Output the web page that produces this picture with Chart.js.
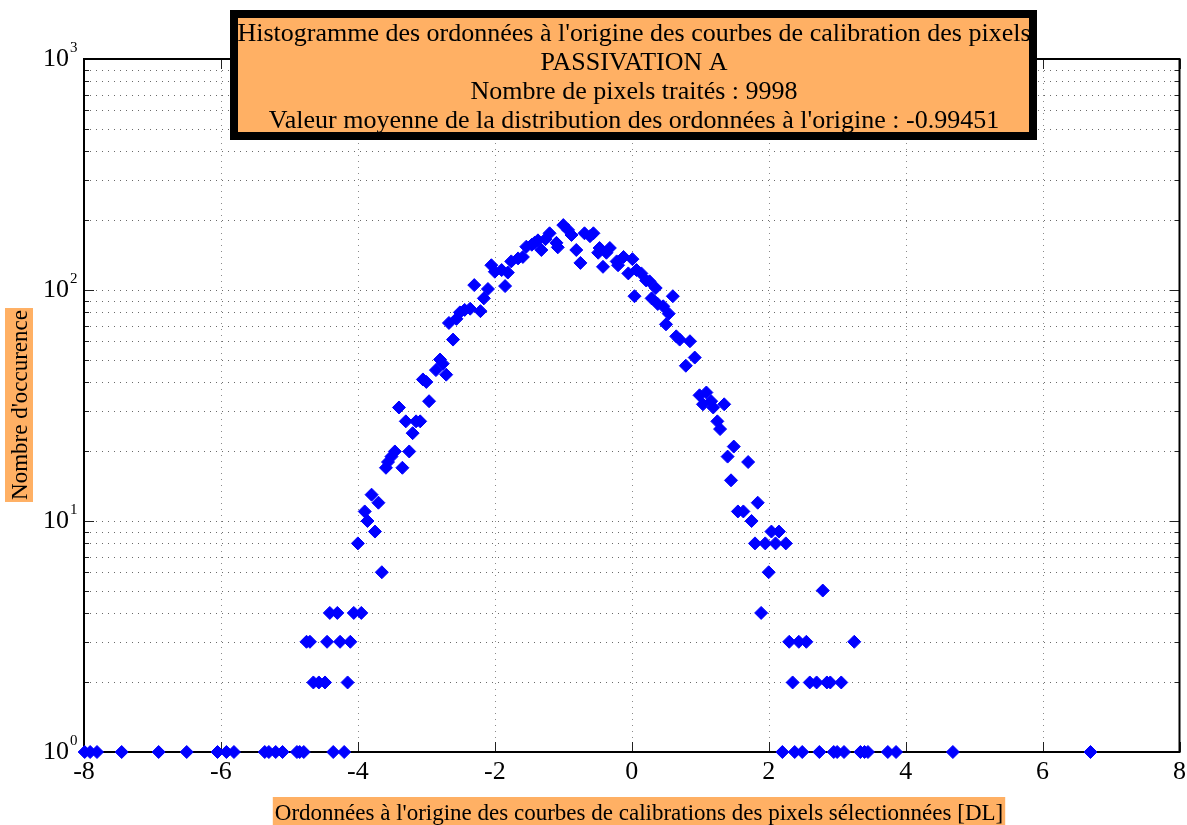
<!DOCTYPE html>
<html><head><meta charset="utf-8">
<script src="https://cdn.jsdelivr.net/npm/chart.js@4.4.1/dist/chart.umd.min.js"></script>
<style>html,body{margin:0;padding:0;background:#fff;}#wrap{width:1187px;height:825px;position:relative;}</style>
</head><body><div id="wrap"><canvas id="c" width="1187" height="825"></canvas></div>
<script>
const binCenters = [-7.99,-7.91,-7.81,-7.45,-6.91,-6.50,-6.05,-5.92,-5.81,-5.36,-5.30,-5.20,-5.10,-4.89,-4.85,-4.79,-4.75,-4.70,-4.65,-4.57,-4.48,-4.45,-4.41,-4.36,-4.30,-4.26,-4.20,-4.15,-4.11,-4.06,-4.00,-3.95,-3.90,-3.86,-3.80,-3.75,-3.70,-3.65,-3.59,-3.56,-3.51,-3.46,-3.40,-3.35,-3.30,-3.25,-3.20,-3.15,-3.09,-3.05,-3.00,-2.96,-2.86,-2.80,-2.76,-2.71,-2.67,-2.61,-2.56,-2.51,-2.44,-2.36,-2.30,-2.21,-2.16,-2.10,-2.05,-2.00,-1.90,-1.85,-1.81,-1.76,-1.66,-1.59,-1.54,-1.46,-1.42,-1.37,-1.32,-1.26,-1.20,-1.10,-1.08,-1.00,-0.93,-0.88,-0.81,-0.75,-0.69,-0.61,-0.56,-0.49,-0.47,-0.42,-0.37,-0.32,-0.22,-0.20,-0.12,-0.05,0.01,0.04,0.07,0.14,0.21,0.26,0.29,0.35,0.38,0.46,0.50,0.54,0.60,0.65,0.70,0.79,0.85,0.92,0.99,1.04,1.09,1.16,1.19,1.25,1.29,1.35,1.40,1.45,1.49,1.55,1.63,1.70,1.75,1.80,1.84,1.89,1.95,2.00,2.04,2.10,2.15,2.20,2.25,2.30,2.35,2.38,2.44,2.49,2.55,2.60,2.70,2.74,2.79,2.85,2.90,2.95,3.00,3.06,3.10,3.25,3.34,3.40,3.45,3.74,3.86,4.69,6.70];
const occurrences = [1,1,1,1,1,1,1,1,1,1,1,1,1,1,1,1,3,3,2,2,2,3,4,1,4,3,1,2,3,4,8,4,11,10,13,9,12,6,17,18,19,20,31,17,27,20,24,27,27,41,40,33,45,50,48,43,72,61,75,80,82,83,105,81,92,101,128,120,122,104,119,133,137,139,154,157,160,164,149,166,176,160,153,191,182,173,149,131,176,171,176,145,152,126,145,152,133,128,139,118,136,94,122,118,110,109,92,102,87,85,71,79,94,63,61,47,60,51,35,32,36,33,31,27,25,32,19,15,21,11,11,18,10,8,12,4,8,6,9,8,9,1,8,3,2,1,3,1,3,2,2,1,5,2,2,1,1,2,1,3,1,1,1,1,1,1,1];
const xTickValues = [-8,-6,-4,-2,0,2,4,6,8];
const yDecades = [1,10,100,1000];
const yExponents = ['0','1','2','3'];
const titleLines = [
  "Histogramme des ordonnées à l'origine des courbes de calibration des pixels",
  "PASSIVATION A",
  "Nombre de pixels traités : 9998",
  "Valeur moyenne de la distribution des ordonnées à l'origine : -0.99451"
];
const xTitle = "Ordonnées à l'origine des courbes de calibrations des pixels sélectionnées [DL]";
const yTitle = "Nombre d'occurence";

const FONT = "'Liberation Serif', 'Times New Roman', serif";
const ORANGE = 'rgb(255,176,100)';

const points = binCenters.map((x, i) => ({x: x, y: occurrences[i]}));

const decor = {
  id: 'decor',
  beforeDatasetsDraw(chart) {
    const ctx = chart.ctx, a = chart.chartArea;
    const xs = chart.scales.x, ys = chart.scales.y;
    ctx.save();
    ctx.strokeStyle = '#8a8a8a';
    ctx.lineWidth = 1;
    ctx.setLineDash([1, 5]);
    xTickValues.forEach(v => {
      const px = Math.round(xs.getPixelForValue(v)) + 0.5;
      if (px <= a.left + 1 || px >= a.right - 1) return;
      ctx.beginPath(); ctx.moveTo(px, a.top); ctx.lineTo(px, a.bottom); ctx.stroke();
    });
    const minor = [];
    yDecades.forEach((d, i) => {
      if (i < yDecades.length - 1) for (let k = 2; k <= 9; k++) minor.push(d * k);
    });
    ctx.strokeStyle = '#6a6a6a';
    yDecades.concat(minor).forEach(v => {
      const py = Math.round(ys.getPixelForValue(v)) + 0.5;
      if (py <= a.top + 1 || py >= a.bottom - 1) return;
      ctx.beginPath(); ctx.moveTo(a.left, py); ctx.lineTo(a.right, py); ctx.stroke();
    });
    ctx.setLineDash([]);
    ctx.strokeStyle = '#222';
    ctx.lineWidth = 1;
    xTickValues.forEach(v => {
      const px = Math.round(xs.getPixelForValue(v)) + 0.5;
      ctx.beginPath();
      ctx.moveTo(px, a.bottom); ctx.lineTo(px, a.bottom - 10);
      ctx.moveTo(px, a.top); ctx.lineTo(px, a.top + 10);
      ctx.stroke();
    });
    yDecades.forEach(v => {
      const py = Math.round(ys.getPixelForValue(v)) + 0.5;
      ctx.beginPath();
      ctx.moveTo(a.left, py); ctx.lineTo(a.left + 10, py);
      ctx.moveTo(a.right, py); ctx.lineTo(a.right - 10, py);
      ctx.stroke();
    });
    minor.forEach(v => {
      const py = Math.round(ys.getPixelForValue(v)) + 0.5;
      ctx.beginPath();
      ctx.moveTo(a.left, py); ctx.lineTo(a.left + 5, py);
      ctx.moveTo(a.right, py); ctx.lineTo(a.right - 5, py);
      ctx.stroke();
    });
    ctx.strokeStyle = '#000';
    ctx.lineWidth = 2;
    ctx.strokeRect(a.left, a.top, a.right - a.left, a.bottom - a.top);
    ctx.restore();
  },
  afterDraw(chart) {
    const ctx = chart.ctx, a = chart.chartArea;
    const ys = chart.scales.y;
    ctx.save();
    ctx.fillStyle = '#000';
    ctx.font = '15px ' + FONT;
    ctx.textAlign = 'left';
    ctx.textBaseline = 'alphabetic';
    yDecades.forEach((v, i) => {
      const py = ys.getPixelForValue(v);
      ctx.fillText(yExponents[i], 70, py - 7);
    });
    // title box
    ctx.fillStyle = ORANGE;
    ctx.fillRect(234, 14, 799, 122);
    ctx.strokeStyle = '#000';
    ctx.lineWidth = 8;
    ctx.strokeRect(234, 14, 799, 122);
    ctx.fillStyle = '#000';
    ctx.font = '26px ' + FONT;
    ctx.textAlign = 'center';
    const base = [41, 70, 99, 128];
    titleLines.forEach((t, i) => ctx.fillText(t, 634, base[i]));
    // x title
    ctx.font = '23px ' + FONT;
    const xw = ctx.measureText(xTitle).width;
    const xc = 639;
    ctx.fillStyle = ORANGE;
    ctx.fillRect(xc - xw / 2 - 2, 797, xw + 4, 28);
    ctx.fillStyle = '#000';
    ctx.fillText(xTitle, xc, 820);
    // y title
    ctx.font = '23px ' + FONT;
    const yw = ctx.measureText(yTitle).width;
    const yc = 405;
    ctx.fillStyle = ORANGE;
    ctx.fillRect(5, yc - yw / 2 - 2, 28, yw + 4);
    ctx.translate(20, yc);
    ctx.rotate(-Math.PI / 2);
    ctx.fillStyle = '#000';
    ctx.textBaseline = 'middle';
    ctx.fillText(yTitle, 0, 1);
    ctx.restore();
  }
};

new Chart(document.getElementById('c'), {
  type: 'scatter',
  data: {
    datasets: [{
      data: points,
      pointStyle: 'rectRot',
      pointRadius: 6.5,
      pointHoverRadius: 6.5,
      backgroundColor: '#0000ff',
      borderColor: '#0000ff',
      borderWidth: 1,
      showLine: false,
      clip: false
    }]
  },
  options: {
    responsive: false,
    animation: false,
    devicePixelRatio: 1,
    layout: {padding: {top: 59, right: 7, left: 0, bottom: 0}},
    plugins: {legend: {display: false}, tooltip: {enabled: false}, title: {display: false}},
    scales: {
      x: {
        type: 'linear', min: -8, max: 8,
        afterBuildTicks: s => { s.ticks = xTickValues.map(v => ({value: v})); },
        afterFit: s => { s.height = 73; s.paddingLeft = 0; s.paddingRight = 0; },
        grid: {display: false, drawTicks: false},
        border: {display: false},
        ticks: {color: '#000', font: {family: FONT, size: 26}, padding: 5, maxRotation: 0, autoSkip: false,
          callback: v => String(v)}
      },
      y: {
        type: 'logarithmic', min: 1, max: 1000,
        afterBuildTicks: s => { s.ticks = yDecades.map(v => ({value: v, major: true})); },
        afterFit: s => { s.width = 84; s.paddingTop = 0; s.paddingBottom = 0; },
        grid: {display: false, drawTicks: false},
        border: {display: false},
        ticks: {color: '#000', font: {family: FONT, size: 26}, padding: 15, autoSkip: false,
          callback: () => '10'}
      }
    }
  },
  plugins: [decor]
});
</script>
</body></html>
